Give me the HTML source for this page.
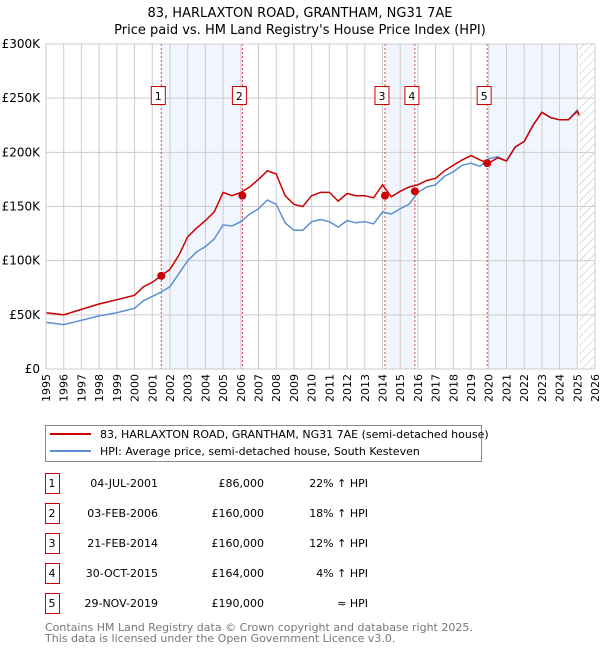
<!DOCTYPE html>
<html><head><meta charset="utf-8"><style>
body{margin:0;background:#fff;font-family:"Liberation Sans","DejaVu Sans",sans-serif;}
svg text{font-family:"DejaVu Sans","Liberation Sans",sans-serif;}
</style></head><body>
<svg id="chart" width="600" height="650" xmlns="http://www.w3.org/2000/svg">
<defs><pattern id="hatch" width="6" height="6" patternUnits="userSpaceOnUse" patternTransform="rotate(45)"><line x1="0" y1="0" x2="0" y2="6" stroke="#bbb" stroke-width="1"/></pattern></defs>
<text x="300" y="17" text-anchor="middle" font-size="13" fill="#000">83, HARLAXTON ROAD, GRANTHAM, NG31 7AE</text>
<text x="300" y="34" text-anchor="middle" font-size="13" fill="#000">Price paid vs. HM Land Registry's House Price Index (HPI)</text>
<g id="plot"></g>
<g>
<rect x="45.5" y="425.5" width="436" height="36" fill="#fff" stroke="#888"/>
<line x1="50" y1="434" x2="91" y2="434" stroke="#cc0000" stroke-width="2"/>
<text x="100" y="438" font-size="11">83, HARLAXTON ROAD, GRANTHAM, NG31 7AE (semi-detached house)</text>
<line x1="50" y1="451" x2="91" y2="451" stroke="#5b8fd4" stroke-width="2"/>
<text x="100" y="455" font-size="11">HPI: Average price, semi-detached house, South Kesteven</text>
</g>
<g id="table" font-size="11"></g>
<text x="45" y="631" font-size="11" fill="#777">Contains HM Land Registry data © Crown copyright and database right 2025.</text>
<text x="45" y="642" font-size="11" fill="#777">This data is licensed under the Open Government Licence v3.0.</text>
</svg>
<script>
const years=[1995,1996,1997,1998,1999,2000,2000.5,2001,2001.5,2002,2002.5,2003,2003.5,2004,2004.5,2005,2005.5,2006,2006.5,2007,2007.5,2008,2008.5,2009,2009.5,2010,2010.5,2011,2011.5,2012,2012.5,2013,2013.5,2014,2014.5,2015,2015.5,2016,2016.5,2017,2017.5,2018,2018.5,2019,2019.5,2020,2020.5,2021,2021.5,2022,2022.5,2023,2023.5,2024,2024.5,2025,2025.1];
const priceSeries=[52,50,55,60,64,68,76,80,86,92,105,122,130,137,145,163,160,163,168,175,183,180,160,152,150,160,163,163,155,162,160,160,158,170,159,164,168,170,174,176,183,188,193,197,193,190,195,192,205,210,225,237,232,230,230,238,234];
const hpiSeries=[43,41,45,49,52,56,63,67,71,76,88,100,108,113,120,133,132,136,143,148,156,152,135,128,128,136,138,136,131,137,135,136,134,145,143,148,152,163,168,170,178,182,188,190,187,194,196,192,205,210,225,237,232,230,230,239,235];
const saleDates=[2001.51,2006.09,2014.14,2015.83,2019.91];
const salePrices=[86,160,160,164,190];
const saleLabels=["1","2","3","4","5"];
const saleDateText=["04-JUL-2001","03-FEB-2006","21-FEB-2014","30-OCT-2015","29-NOV-2019"];
const salePriceText=["£86,000","£160,000","£160,000","£164,000","£190,000"];
const saleHpiText=["22% ↑ HPI","18% ↑ HPI","12% ↑ HPI","4% ↑ HPI","≈ HPI"];
const yTicks=[0,50,100,150,200,250,300];
const yTickLabels=["£0","£50K","£100K","£150K","£200K","£250K","£300K"];
const xTicks=[1995,1996,1997,1998,1999,2000,2001,2002,2003,2004,2005,2006,2007,2008,2009,2010,2011,2012,2013,2014,2015,2016,2017,2018,2019,2020,2021,2022,2023,2024,2025,2026];

const NS="http://www.w3.org/2000/svg";
const X0=46,X1=595,Y0=369,Y1=44;
const xs=v=>X0+(v-1995)/(2026-1995)*(X1-X0);
const ys=v=>Y0-v/300*(Y0-Y1);
const plot=document.getElementById('plot');
function mk(tag,attrs,parent){const e=document.createElementNS(NS,tag);for(const k in attrs)e.setAttribute(k,attrs[k]);(parent||plot).appendChild(e);return e;}
const bands=[[0,1],[2,3],[4,null]];
bands.forEach(b=>{const a=xs(saleDates[b[0]]);const e=b[1]===null?xs(2025.0):xs(saleDates[b[1]]);
const r=mk('rect',{x:a,y:Y1,width:e-a,height:Y0-Y1,fill:'#eef3fc',opacity:0.8});

});
const h=mk('rect',{x:xs(2025.1),y:Y1,width:X1-xs(2025.1),height:Y0-Y1,fill:'url(#hatch)'});


xTicks.forEach(t=>{const g=mk('line',{x1:xs(t),x2:xs(t),y1:Y1,y2:Y0,stroke:'#ccc','stroke-width':1});


const tx=mk('text',{x:0,y:0,'font-size':11,'text-anchor':'end',transform:`translate(${xs(t)+4},${Y0+5}) rotate(-90)`});
tx.textContent=t;

});
yTicks.forEach((t,i)=>{const g=mk('line',{x1:X0,x2:X1,y1:ys(t),y2:ys(t),stroke:'#ccc','stroke-width':1});


const tx=mk('text',{x:X0-6,y:ys(t)+4,'font-size':12,'text-anchor':'end'});
tx.textContent=yTickLabels[i];

});
saleDates.forEach(d=>{const l=mk('line',{x1:xs(d),x2:xs(d),y1:Y1,y2:Y0,stroke:'#e04040','stroke-width':1,'stroke-dasharray':'2,2'});

});
function path(arr){return arr.map((v,i)=>(i?'L':'M')+xs(years[i]).toFixed(1)+','+ys(v).toFixed(1)).join('');}
const hp=mk('path',{d:path(hpiSeries),fill:'none',stroke:'#5b8fd4','stroke-width':1.5});


const pp=mk('path',{d:path(priceSeries),fill:'none',stroke:'#cc0000','stroke-width':1.5});


saleDates.forEach((d,i)=>{const c=mk('circle',{cx:xs(d),cy:ys(salePrices[i]),r:4,fill:'#cc0000'});


const bx=mk('rect',{x:xs(d)-10,y:86.5,width:14,height:18,fill:'#fff',stroke:'#cc0000'});


const t=mk('text',{x:xs(d)-3,y:100,'font-size':11,'text-anchor':'middle'});
t.textContent=saleLabels[i];

});
mk('rect',{x:X0,y:Y1,width:X1-X0,height:Y0-Y1,fill:'none',stroke:'#ccc'});
const tb=document.getElementById('table');
saleLabels.forEach((l,i)=>{const y=483+i*30;
const b=mk('rect',{x:45.5,y:y-9.5,width:14,height:20,fill:'#fff',stroke:'#cc0000'},tb);


const cols=[[52,l,'middle'],[158,saleDateText[i],'end'],[264,salePriceText[i],'end'],[368,saleHpiText[i],'end']];
cols.forEach(c=>{const t=mk('text',{x:c[0],y:y+4,'text-anchor':c[2],'font-size':11},tb);t.textContent=c[1];

});});
</script>
</body></html>
